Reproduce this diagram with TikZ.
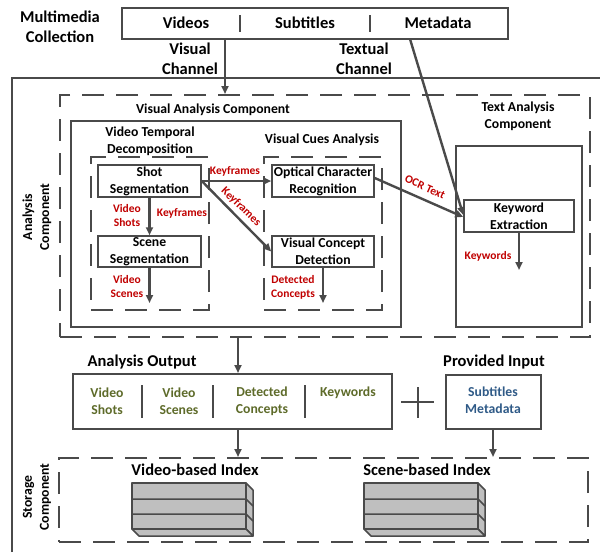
\documentclass[tikz,border=0pt]{standalone}
\usepackage{fontspec}
\setmainfont{Carlito}
\usepackage{xcolor}
\usetikzlibrary{
    arrows.meta,
    positioning,
    calc
}
\definecolor{linegray}{HTML}{4A4A4A}
\definecolor{lblred}{HTML}{C00000}
\definecolor{outgreen}{HTML}{5E6B2A}
\definecolor{inblue}{HTML}{2F5A87}
\definecolor{stackgray}{HTML}{BFBFBF}
\newcommand\bigfont{\fontsize{16.5}{20}\selectfont\bfseries}
\newcommand\midfont{\fontsize{13.7}{17}\selectfont\bfseries}
\newcommand\smallfont{\fontsize{11.5}{14}\selectfont\bfseries}

\begin{document}
\begin{tikzpicture}[
        x=1pt, y=-1pt,
        >={Triangle[length=8pt,width=7pt]},
        arr/.style={->, draw=linegray, fill=linegray, line width=2.4pt},
        bigtxt/.style={align=center, inner sep=0pt, font=\bigfont},
        midtxt/.style={align=center, inner sep=0pt, font=\midfont},
        redtxt/.style={align=center, inner sep=0pt, text=lblred, font=\smallfont},
        greentxt/.style={align=center, inner sep=0pt, text=outgreen, font=\midfont},
        procbox/.style={
            draw=linegray,
            line width=1.5pt,
            minimum width=103pt,
            minimum height=32pt,
            inner sep=0pt,
            align=center,
            font=\midfont
        },
        framebox/.style={draw=linegray, line width=2pt, inner sep=0pt},
        dashbox/.style={draw=linegray, line width=2pt, inner sep=0pt, dash pattern=on 22pt off 12pt},
        divider/.style={draw=linegray, line width=2pt},
        stack/.style={fill=stackgray, draw=linegray, line width=1.5pt, line join=round}
    ]
        \useasboundingbox (0,0) rectangle (600,552);

        % collection and channels
        \draw[linegray, line width=2.4pt] (12,552) -- (12,78) -- (600,78);
        \node[framebox, minimum width=386pt, minimum height=31pt] (coll) at (315,23.5) {};
        \node[bigtxt] (videos) at (186,23) {Videos};
        \node[bigtxt] (subs) at (305,23) {Subtitles};
        \node[bigtxt] (meta) at (438,23) {Metadata};
        \foreach \x in {240,370} \draw[divider] (\x,15) -- (\x,32);
        \node[bigtxt] (mmc) at (60,27) {Multimedia\\Collection};
        \node[bigtxt] (vischan) at (190,59) {Visual\\Channel};
        \node[bigtxt] (txtchan) at (364,59) {Textual\\Channel};

        % analysis component
        \node[dashbox, minimum width=530pt, minimum height=242pt] (ana) at (325,216) {};
        \node[midtxt, rotate=90] (analbl) at (37,217) {Analysis\\Component};
        \node[framebox, minimum width=330pt, minimum height=206pt] (visbox) at (236,224) {};
        \node[midtxt] (vistitle) at (213,110) {Visual Analysis Component};
        \node[framebox, minimum width=126pt, minimum height=181pt] (txtbox) at (519,236.5) {};
        \node[midtxt] (txttitle) at (518,116) {Text Analysis\\Component};
        \node[dashbox, minimum width=118pt, minimum height=153pt] (vtd) at (150,233.5) {};
        \node[midtxt] (vtdtitle) at (150,141) {Video Temporal\\Decomposition};
        \node[dashbox, minimum width=118pt, minimum height=153pt] (vca) at (323,233.5) {};
        \node[midtxt] (vcatitle) at (322,140) {Visual Cues Analysis};

        \node[procbox] (shot) at (149.5,181) {Shot\\Segmentation};
        \node[procbox, minimum height=31pt] (scene) at (149.5,251.5) {Scene\\Segmentation};
        \node[procbox, minimum width=102pt] (ocr) at (323,181) {Optical Character\\Recognition};
        \node[procbox, minimum width=102pt, minimum height=31pt] (vcd) at (323,251.5) {Visual Concept\\Detection};
        \node[procbox, minimum width=110pt] (kw) at (519,216) {Keyword\\Extraction};

        \coordinate (visout) at (225,39);
        \coordinate (metaout) at (410,39);
        \coordinate (sceneend) at (149.5,303);
        \coordinate (vcdend) at (323,303);
        \coordinate (kwend) at (519,270);
        \draw[arr] (visout) -- (visout |- ana.north);
        \draw[arr] (metaout) -- ($(kw.west)+(0,-1)$);
        \draw[arr] (shot) -- (scene);
        \draw[arr] (scene) -- (sceneend);
        \draw[arr] (shot) -- (ocr);
        \draw[arr] (shot.east) -- (vcd.west);
        \draw[arr] (vcd) -- (vcdend);
        \draw[arr] ($(ocr.east)+(0,-3)$) -- ($(kw.west)+(0,1)$);
        \draw[arr] (kw) -- (kwend);

        \node[redtxt] (shotslbl) at (127,216) {Video\\Shots};
        \node[redtxt] (kf1) at (182,213) {Keyframes};
        \node[redtxt] (sceneslbl) at (127,287) {Video\\Scenes};
        \node[redtxt] (kf2) at (235,171) {Keyframes};
        \node[redtxt, rotate=-44] (kf3) at (241,207) {Keyframes};
        \node[redtxt] (conclbl) at (293,287) {Detected\\Concepts};
        \node[redtxt, rotate=-24] (ocrlbl) at (425,187) {OCR Text};
        \node[redtxt] (kwlbl) at (488,256) {Keywords};

        % output and input
        \node[framebox, minimum width=319pt, minimum height=55pt] (outbox) at (232.5,401.5) {};
        \node[bigtxt] (outtitle) at (142,362) {Analysis Output};
        \node[greentxt] (o1) at (107,401.5) {Video\\Shots};
        \node[greentxt] (o2) at (179,401.5) {Video\\Scenes};
        \node[greentxt] (o3) at (262,401.5) {Detected\\Concepts};
        \node[greentxt] (o4) at (348,393) {Keywords};
        \foreach \x in {142,213,305} \draw[divider] (\x,385) -- (\x,418);
        \draw[linegray, line width=2pt] (401,402) -- (434,402) (417.5,387) -- (417.5,418);
        \node[framebox, minimum width=95pt, minimum height=54pt] (given) at (493,402) {};
        \node[bigtxt] (giventitle) at (494,362) {Provided Input};
        \node[align=center, inner sep=0pt, text=inblue, font=\midfont] (giventxt) at (493,400) {Subtitles\\Metadata};

        % storage component
        \node[dashbox, minimum width=529pt, minimum height=84pt] (store) at (323.5,500) {};
        \node[midtxt, rotate=90] (storelbl) at (37,497) {Storage\\Component};
        \node[bigtxt] (vidx) at (195,470) {Video-based Index};
        \node[bigtxt] (sidx) at (427,470) {Scene-based Index};
        \foreach \x in {132,364} {
            \draw[stack] (\x,483) rectangle ++(114,46);
            \draw[stack] (\x+114,483) -- ++(7,7) -- ++(0,46) -- ++(-7,-7) -- cycle;
            \draw[stack] (\x,529) -- ++(7,7) -- ++(114,0) -- ++(-7,-7) -- cycle;
            \foreach \y in {499,514} \draw[linegray, line width=1.5pt] (\x,\y) -- ++(114,0) -- ++(7,7);
        }

        \coordinate (anaout) at (238,337);
        \draw[arr] (anaout) -- (anaout |- outbox.north);
        \draw[arr] (anaout |- outbox.south) -- (anaout |- store.north);
        \draw[arr] (given.south) -- (given.south |- store.north);
    \end{tikzpicture}
\end{document}
